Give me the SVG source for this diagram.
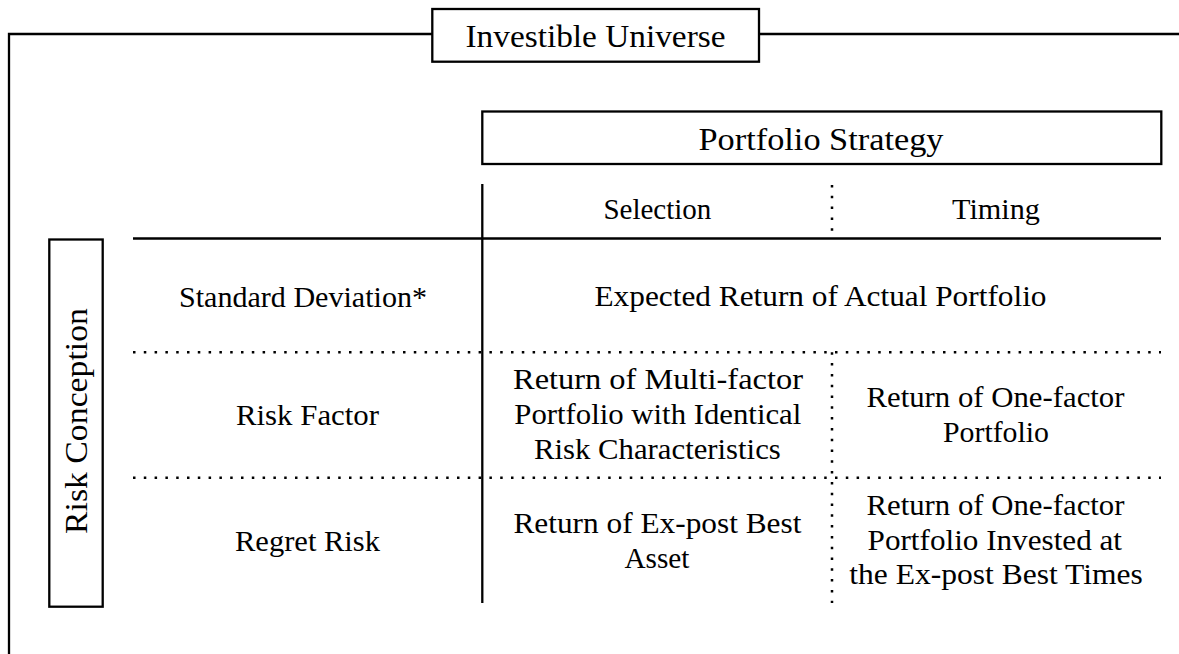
<svg xmlns="http://www.w3.org/2000/svg" width="1179" height="654" viewBox="0 0 1179 654">
  <style>
    .box { fill: #ffffff; stroke: #000000; stroke-width: 2.3; }
    .solid { fill: none; stroke: #000000; stroke-width: 2.3; }
    .dotted { fill: none; stroke: #000000; stroke-width: 2.5; stroke-dasharray: 2.5 8.3; }
  </style>

  <rect x="0" y="0" width="1179" height="654" fill="#ffffff"/>

  <!-- frame and table rules -->
  <g id="connectors">
    <!-- outer frame of the investible universe -->
    <path class="solid" d="M9,660 V34 H432"/>
    <path class="solid" d="M759,34 H1180"/>
    <!-- table rules -->
    <path class="solid" d="M482.3,184 V603"/>
    <path class="solid" d="M133,238.5 H1161"/>
    <path class="dotted" d="M133,352.3 H1161"/>
    <path class="dotted" d="M133,477.7 H1161"/>
    <path class="dotted" d="M832,185 V238"/>
    <path class="dotted" d="M832,352.3 V603"/>
  </g>

  <g id="investible-universe">
    <rect class="box" x="432.3" y="9" width="326.7" height="52.7"/>
    <text x="595.5" y="46.7" font-family="Liberation Serif, Times New Roman, serif" font-size="32" text-anchor="middle" textLength="260" lengthAdjust="spacingAndGlyphs">Investible Universe</text>
  </g>

  <g id="portfolio-strategy">
    <rect class="box" x="482.3" y="111.5" width="679" height="52.5"/>
    <text x="821" y="150" font-family="Liberation Serif, Times New Roman, serif" font-size="32" text-anchor="middle" textLength="245" lengthAdjust="spacingAndGlyphs">Portfolio Strategy</text>
  </g>

  <g id="risk-conception">
    <rect class="box" x="49.3" y="239.5" width="53.4" height="367.2"/>
    <text transform="translate(87,421) rotate(-90)" x="0" y="0" font-family="Liberation Serif, Times New Roman, serif" font-size="32" text-anchor="middle" textLength="226" lengthAdjust="spacingAndGlyphs">Risk Conception</text>
  </g>

  <g id="header-selection">
    <text x="657.4" y="219.3" font-family="Liberation Serif, Times New Roman, serif" font-size="29" text-anchor="middle" textLength="108" lengthAdjust="spacingAndGlyphs">Selection</text>
  </g>
  <g id="header-timing">
    <text x="996" y="219.3" font-family="Liberation Serif, Times New Roman, serif" font-size="29" text-anchor="middle" textLength="88" lengthAdjust="spacingAndGlyphs">Timing</text>
  </g>

  <g id="row-standard-deviation">
    <text x="179" y="306.7" font-family="Liberation Serif, Times New Roman, serif" font-size="29" textLength="248" lengthAdjust="spacingAndGlyphs">Standard Deviation*</text>
  </g>
  <g id="cell-expected-return">
    <text x="820.5" y="305.7" font-family="Liberation Serif, Times New Roman, serif" font-size="29" text-anchor="middle" textLength="452" lengthAdjust="spacingAndGlyphs">Expected Return of Actual Portfolio</text>
  </g>

  <g id="row-risk-factor">
    <text x="307.5" y="425" font-family="Liberation Serif, Times New Roman, serif" font-size="29" text-anchor="middle" textLength="143" lengthAdjust="spacingAndGlyphs">Risk Factor</text>
  </g>
  <g id="cell-multi-factor">
    <text x="658" y="389.3" font-family="Liberation Serif, Times New Roman, serif" font-size="29" text-anchor="middle" textLength="290" lengthAdjust="spacingAndGlyphs">Return of Multi-factor</text>
    <text x="657.8" y="424.3" font-family="Liberation Serif, Times New Roman, serif" font-size="29" text-anchor="middle" textLength="287" lengthAdjust="spacingAndGlyphs">Portfolio with Identical</text>
    <text x="657.4" y="459" font-family="Liberation Serif, Times New Roman, serif" font-size="29" text-anchor="middle" textLength="246.7" lengthAdjust="spacingAndGlyphs">Risk Characteristics</text>
  </g>
  <g id="cell-one-factor">
    <text x="995.5" y="407.3" font-family="Liberation Serif, Times New Roman, serif" font-size="29" text-anchor="middle" textLength="258" lengthAdjust="spacingAndGlyphs">Return of One-factor</text>
    <text x="996" y="442.3" font-family="Liberation Serif, Times New Roman, serif" font-size="29" text-anchor="middle" textLength="106" lengthAdjust="spacingAndGlyphs">Portfolio</text>
  </g>

  <g id="row-regret-risk">
    <text x="307.5" y="551" font-family="Liberation Serif, Times New Roman, serif" font-size="29" text-anchor="middle" textLength="145" lengthAdjust="spacingAndGlyphs">Regret Risk</text>
  </g>
  <g id="cell-best-asset">
    <text x="657.4" y="533.3" font-family="Liberation Serif, Times New Roman, serif" font-size="29" text-anchor="middle" textLength="288" lengthAdjust="spacingAndGlyphs">Return of Ex-post Best</text>
    <text x="656.9" y="568.3" font-family="Liberation Serif, Times New Roman, serif" font-size="29" text-anchor="middle" textLength="65" lengthAdjust="spacingAndGlyphs">Asset</text>
  </g>
  <g id="cell-best-times">
    <text x="995.5" y="515" font-family="Liberation Serif, Times New Roman, serif" font-size="29" text-anchor="middle" textLength="258" lengthAdjust="spacingAndGlyphs">Return of One-factor</text>
    <text x="994.8" y="550" font-family="Liberation Serif, Times New Roman, serif" font-size="29" text-anchor="middle" textLength="254.4" lengthAdjust="spacingAndGlyphs">Portfolio Invested at</text>
    <text x="996" y="584" font-family="Liberation Serif, Times New Roman, serif" font-size="29" text-anchor="middle" textLength="293.4" lengthAdjust="spacingAndGlyphs">the Ex-post Best Times</text>
  </g>
</svg>
